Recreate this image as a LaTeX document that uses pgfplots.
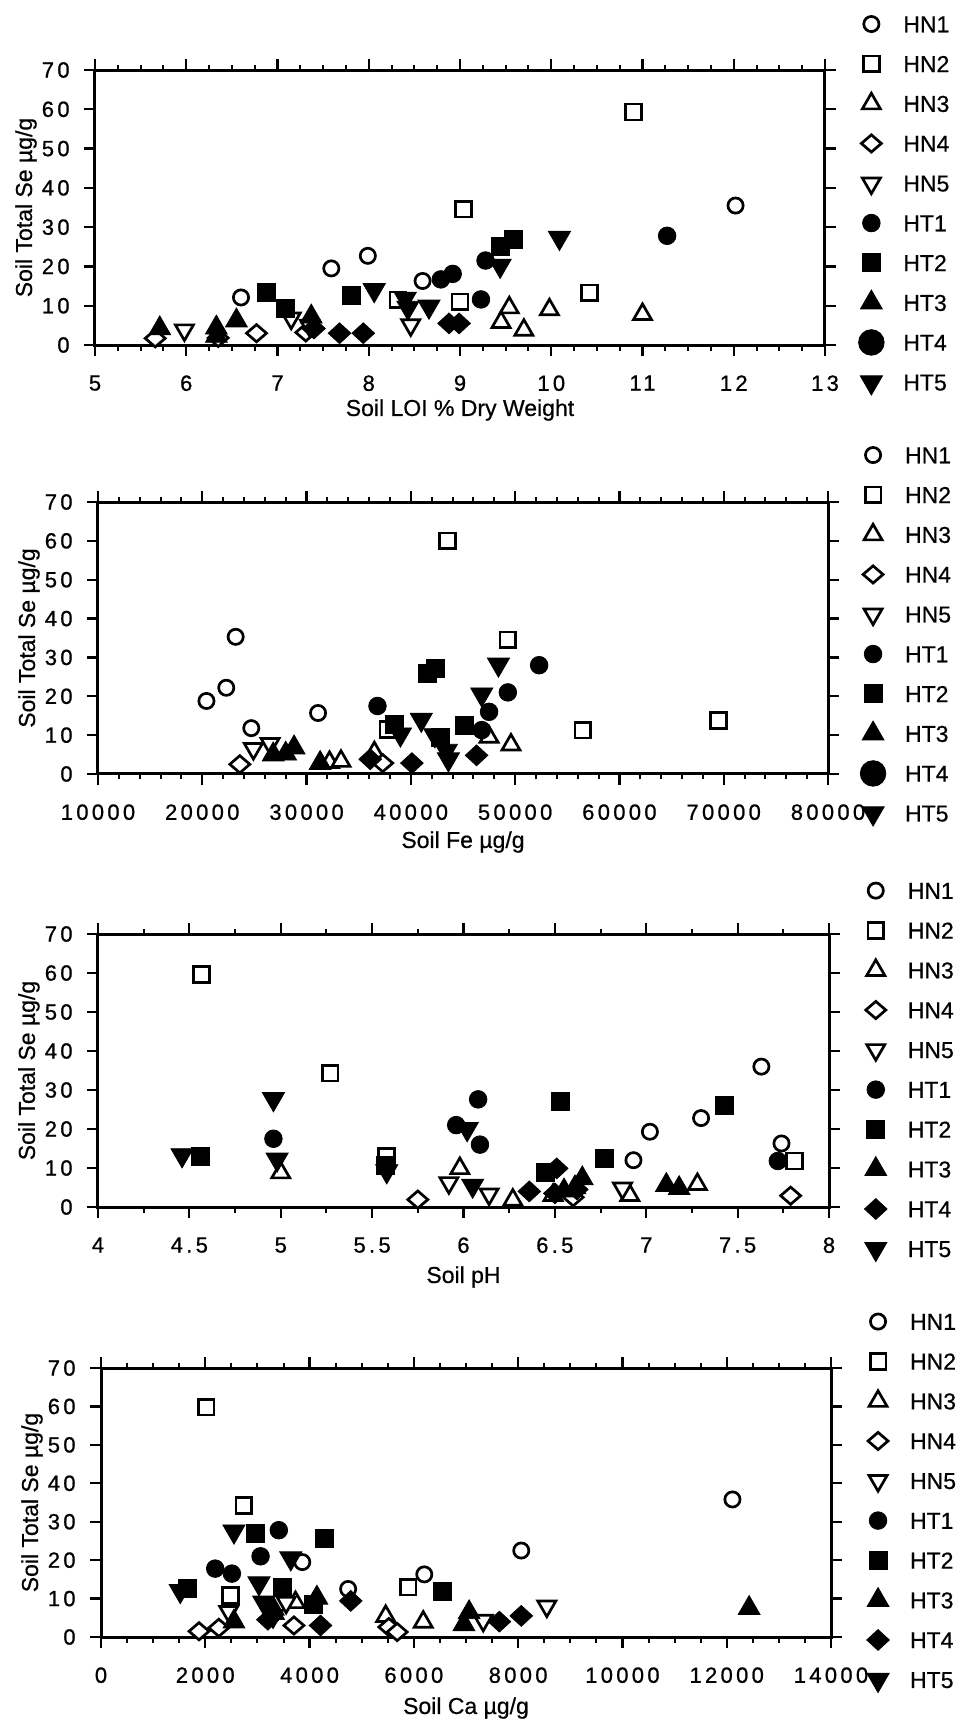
\documentclass[border=0pt]{standalone}
\usepackage{fontspec}
\setmainfont{Liberation Sans}
\newfontfamily\tickfam{Liberation Sans}[LetterSpace=15,FakeBold=0.8]
\newfontfamily\labfam{Liberation Sans}[FakeBold=0.6]
\usepackage{pgfplots}
\pgfplotsset{compat=1.18}
\pgfplotsset{
  openm/.style={only marks, mark options={draw=black, fill=white, line width=1.35pt}},
  fullm/.style={only marks, mark options={draw=black, fill=black, line width=0.4pt}},
  hn1/.style={openm, mark=*, mark size=3.8pt},
  hn2/.style={openm, mark=square*, mark size=3.95pt},
  hn3/.style={openm, mark=triangle*, mark size=5.2pt},
  hn4/.style={only marks, mark=diamond*, mark size=4.3pt, mark options={draw=black, fill=white, line width=1.35pt, xscale=1.55}},
  hn5/.style={only marks, mark=triangle*, mark size=5.2pt, mark options={draw=black, fill=white, line width=1.35pt, rotate=180}},
  ht1/.style={fullm, mark=*, mark size=4.4pt},
  ht2/.style={fullm, mark=square*, mark size=4.5pt},
  ht3/.style={fullm, mark=triangle*, mark size=6.3pt},
  ht4/.style={only marks, mark=diamond*, mark size=5.2pt, mark options={draw=black, fill=black, line width=0.4pt, xscale=1.45}},
  ht4c/.style={fullm, mark=*, mark size=6.4pt},
  ht5/.style={only marks, mark=triangle*, mark size=6.4pt, mark options={draw=black, fill=black, line width=0.4pt, rotate=180}},
  legimg/.style={legend image code/.code={\path[draw=none,fill=none] (0pt,-9.95pt) rectangle (17pt,9.95pt); \draw[##1] plot coordinates {(8.5pt,0pt)};}},
  common/.style={
    scale only axis, anchor=north west, width=365pt,
    ymin=0, ymax=70, ytick={0,10,...,70},
    tick align=outside,
    major tick length=5.5pt, minor tick length=2.75pt,
    axis line style={line width=1.5pt},
    every tick/.style={black, line width=1.1pt},
    every minor tick/.style={black, line width=1pt},
    clip=false,
    /pgf/number format/assume math mode=true,
    /pgf/number format/1000 sep={},
    scaled x ticks=false,
    tick label style={font=\fontsize{11}{13}\tickfam},
    xticklabel style={anchor=north, inner sep=0pt, yshift=-9.5pt},
    yticklabel style={anchor=east, inner sep=0pt, xshift=-7pt},
    label style={font=\fontsize{11.5}{13}\labfam},
    ylabel={Soil Total Se µg/g},
    ylabel style={at={(axis description cs:-0.0945,0.5)}, anchor=center},
    legend style={draw=none, fill=none, anchor=north west, font=\fontsize{11.5}{13}\labfam,
      row sep=0pt, column sep=7.5pt, nodes={inner sep=0pt, text height=8.2pt, text depth=0pt}},
    legend cell align=left,
  }
}
\newcommand{\mylegend}[1]{%
  \addlegendimage{hn1,legimg}\addlegendentry{HN1}
  \addlegendimage{hn2,legimg}\addlegendentry{HN2}
  \addlegendimage{hn3,legimg}\addlegendentry{HN3}
  \addlegendimage{hn4,legimg}\addlegendentry{HN4}
  \addlegendimage{hn5,legimg}\addlegendentry{HN5}
  \addlegendimage{ht1,legimg}\addlegendentry{HT1}
  \addlegendimage{ht2,legimg}\addlegendentry{HT2}
  \addlegendimage{ht3,legimg}\addlegendentry{HT3}
  \addlegendimage{#1,legimg}\addlegendentry{HT4}
  \addlegendimage{ht5,legimg}\addlegendentry{HT5}}
\begin{document}
\begin{tikzpicture}
\path[use as bounding box] (0pt,0pt) rectangle (481.5pt,-865pt);
% ---------------- Panel 1: LOI
\begin{axis}[common, at={(47.5pt,-35pt)}, height=137.5pt,
  xmin=5, xmax=13, xtick={5,6,...,13}, minor x tick num=3,
  xlabel={Soil LOI \% Dry Weight},
  xlabel style={at={(axis description cs:0.5,0)}, anchor=center, yshift=-32.5pt},
  legend style={at={(axis description cs:1.0315,1.2555)}}]
\addplot[forget plot,hn1] coordinates {(6.60,12.1) (7.59,19.5) (7.99,22.7) (8.59,16.3) (12.02,35.5)};
\addplot[forget plot,hn2] coordinates {(8.32,11.5) (9.04,34.6) (9.00,11.0) (10.90,59.3) (10.42,13.3)};
\addplot[forget plot,hn3] coordinates {(9.54,9.5) (9.45,5.8) (9.70,3.8) (9.98,9.0) (11.0,7.8)};
\addplot[forget plot,hn4] coordinates {(5.66,1.7) (6.35,1.8) (6.77,3.0) (7.31,3.2) (7.38,4.4)};
\addplot[forget plot,hn5] coordinates {(5.98,3.8) (7.15,6.8) (7.35,5.0) (8.46,5.1)};
\addplot[forget plot,ht1] coordinates {(8.79,16.7) (8.92,18.1) (9.23,11.6) (9.28,21.5) (11.27,27.8)};
\addplot[forget plot,ht2] coordinates {(6.88,13.3) (7.09,9.3) (7.81,12.7) (9.44,25.2) (9.58,26.8)};
\addplot[forget plot,ht3] coordinates {(5.71,4.2) (6.33,4.4) (6.33,2.3) (6.55,6.2) (7.37,7.2)};
\addplot[forget plot,ht4] coordinates {(7.40,4.2) (7.68,3.0) (7.94,3.0) (8.88,5.5) (8.99,5.5)};
\addplot[forget plot,ht5] coordinates {(8.06,14.0) (8.40,11.8) (8.43,9.5) (8.66,9.8) (9.44,20.2) (10.09,27.3)};
\mylegend{ht4c}
\end{axis}
% ---------------- Panel 2: Fe
\begin{axis}[common, at={(49pt,-251pt)}, height=136pt,
  xmin=10000, xmax=80000, xtick={10000,20000,...,80000}, minor x tick num=4,
  xlabel={Soil Fe µg/g},
  xlabel style={at={(axis description cs:0.5,0)}, anchor=center, yshift=-34pt},
  legend style={at={(axis description cs:1.0297,1.262)}}]
\addplot[forget plot,hn1] coordinates {(20400,18.8) (22300,22.2) (23200,35.3) (24700,11.8) (31100,15.7)};
\addplot[forget plot,hn2] coordinates {(37800,11.5) (43500,60.0) (49300,34.5) (56500,11.3) (69500,13.8)};
\addplot[forget plot,hn3] coordinates {(32200,3.0) (33300,3.3) (36500,5.5) (47500,9.5) (49600,7.5)};
\addplot[forget plot,hn4] coordinates {(23600,2.5) (37300,2.8)};
\addplot[forget plot,hn5] coordinates {(24900,6.5) (26500,7.8)};
\addplot[forget plot,ht1] coordinates {(36800,17.5) (46800,11.3) (47500,16.0) (49300,21.0) (52300,28.0)};
\addplot[forget plot,ht2] coordinates {(38400,12.8) (41600,25.8) (42400,27.2) (42800,9.5) (45100,12.5)};
\addplot[forget plot,ht3] coordinates {(26800,5.0) (28000,5.2) (28800,6.8) (31300,2.8)};
\addplot[forget plot,ht4] coordinates {(36100,3.8) (40100,2.8) (46300,4.8)};
\addplot[forget plot,ht5] coordinates {(39000,10.2) (41000,14.0) (42300,10.0) (43400,6.0) (43600,3.8) (46800,20.5) (48400,28.2)};
\mylegend{ht4c}
\end{axis}
% ---------------- Panel 3: pH
\begin{axis}[common, at={(49pt,-467pt)}, height=136.5pt, width=365.5pt,
  xmin=4, xmax=8, xtick={4,4.5,...,8}, minor x tick num=1,
  xlabel={Soil pH},
  xlabel style={at={(axis description cs:0.5,0)}, anchor=center, yshift=-35pt},
  legend style={at={(axis description cs:1.032,1.248)}}]
\addplot[forget plot,hn1] coordinates {(6.93,12.0) (7.02,19.3) (7.30,22.8) (7.63,36.0) (7.74,16.3)};
\addplot[forget plot,hn2] coordinates {(4.565,59.6) (5.27,34.3) (5.58,12.9) (7.81,11.8)};
\addplot[forget plot,hn3] coordinates {(5.00,8.8) (5.98,9.9) (6.27,1.8) (6.49,3.0) (6.91,3.0) (7.28,5.8)};
\addplot[forget plot,hn4] coordinates {(5.75,1.9) (6.60,2.5) (7.79,2.9)};
\addplot[forget plot,hn5] coordinates {(5.92,6.2) (6.14,3.3) (6.87,4.8)};
\addplot[forget plot,ht1] coordinates {(4.96,17.5) (5.96,21.0) (6.08,27.6) (6.09,16.0) (7.72,11.8)};
\addplot[forget plot,ht2] coordinates {(4.56,12.9) (5.57,10.7) (6.45,8.8) (6.53,27.0) (6.77,12.4) (7.43,26.0)};
\addplot[forget plot,ht3] coordinates {(6.55,4.2) (6.61,5.0) (6.65,7.3) (7.11,5.6) (7.18,4.8)};
\addplot[forget plot,ht4] coordinates {(6.36,4.0) (6.50,3.5) (6.51,9.9) (6.62,4.5)};
\addplot[forget plot,ht5] coordinates {(4.46,13.3) (4.96,27.7) (4.98,12.2) (5.58,9.2) (6.02,20.0) (6.05,5.5)};
\mylegend{ht4}
\end{axis}
% ---------------- Panel 4: Ca
\begin{axis}[common, at={(50.5pt,-684pt)}, height=134.5pt,
  xmin=0, xmax=14000, xtick={0,2000,...,14000}, minor x tick num=3,
  xlabel={Soil Ca µg/g},
  xlabel style={at={(axis description cs:0.5,0)}, anchor=center, yshift=-35.5pt},
  legend style={at={(axis description cs:1.0324,1.263)}}]
\addplot[forget plot,hn1] coordinates {(3860,19.5) (4740,12.5) (6200,16.3) (8060,22.5) (12110,35.8)};
\addplot[forget plot,hn2] coordinates {(2015,59.8) (2480,10.8) (2740,34.2) (5890,13.0)};
\addplot[forget plot,hn3] coordinates {(3310,7.3) (3730,9.0) (5460,5.4) (6180,3.9)};
\addplot[forget plot,hn4] coordinates {(1880,1.5) (2260,2.4) (3700,3.0) (5520,2.6) (5680,1.3)};
\addplot[forget plot,hn5] coordinates {(2450,6.6) (3550,9.0) (7330,4.3) (8550,8.0)};
\addplot[forget plot,ht1] coordinates {(2190,17.8) (2510,16.5) (3060,21.0) (3410,27.8)};
\addplot[forget plot,ht2] coordinates {(1650,12.7) (2960,27.0) (3470,13.0) (4080,8.5) (4280,25.7) (6550,12.0)};
\addplot[forget plot,ht3] coordinates {(2550,4.0) (3310,6.2) (4140,10.2) (6960,3.3) (7060,6.4) (12430,7.5)};
\addplot[forget plot,ht4] coordinates {(3200,4.5) (4210,3.0) (4790,9.4) (7640,4.0) (8060,5.5)};
\addplot[forget plot,ht5] coordinates {(1520,12.0) (2550,27.5) (3030,14.0) (3120,9.0) (3300,5.5) (3640,20.5)};
\mylegend{ht4}
\end{axis}
\end{tikzpicture}
\end{document}
